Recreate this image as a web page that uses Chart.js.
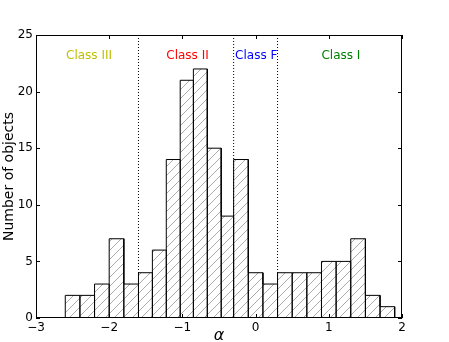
<!DOCTYPE html>
<html>
<head>
<meta charset="utf-8">
<script src="https://cdn.jsdelivr.net/npm/chart.js@4.4.0/dist/chart.umd.min.js"></script>
<style>
  html, body { margin: 0; padding: 0; background: #fff; }
  #wrap { width: 449px; height: 342px; }
</style>
</head>
<body>
<div id="wrap"><canvas id="histChart"></canvas></div>
<script>
// histogram bins (edges) and counts per bin
const binEdges = [-2.6, -2.4, -2.2, -2.0, -1.8, -1.6, -1.41, -1.22, -1.03, -0.85, -0.66, -0.47,
                  -0.3, -0.1, 0.1, 0.3, 0.5, 0.7, 0.9, 1.1, 1.3, 1.5, 1.7, 1.9];
const counts = [2, 2, 3, 7, 3, 4, 6, 14, 21, 22, 15, 9, 14, 4, 3, 4, 4, 4, 5, 5, 7, 2, 1];

// class boundaries (dotted lines) and class labels
const classBounds = [-1.6, -0.3, 0.3];
const classNames = ["Class III", "Class II", "Class F", "Class I"];
const classColors = ["#bfbf00", "#ff0000", "#0000ff", "#008000"];
const classLabelX = [-2.59, -1.22, -0.28, 0.9];
const classLabelY = 23.2;

const xTicks = [-3, -2, -1, 0, 1, 2];
const yTicks = [0, 5, 10, 15, 20, 25];

Chart.defaults.font.family = "'DejaVu Sans', sans-serif";
Chart.defaults.color = "#000";

function makeHatch() {
  const s = 9;
  const c = document.createElement("canvas");
  c.width = s; c.height = s;
  const g = c.getContext("2d");
  g.strokeStyle = "#ababab";
  g.lineWidth = 1;
  g.beginPath();
  g.moveTo(0, s); g.lineTo(s, 0);
  g.moveTo(-1, 1); g.lineTo(1, -1);
  g.moveTo(s - 1, s + 1); g.lineTo(s + 1, s - 1);
  g.stroke();
  return g.createPattern(c, "repeat");
}

// outline of every bar as one path: up, across, down for each bin
const histPoints = [];
counts.forEach((v, i) => {
  histPoints.push({ x: binEdges[i], y: 0 });
  histPoints.push({ x: binEdges[i], y: v });
  histPoints.push({ x: binEdges[i + 1], y: v });
  histPoints.push({ x: binEdges[i + 1], y: 0 });
});

const boundSets = classBounds.map(b => ({
  data: [{ x: b, y: 0 }, { x: b, y: 25 }],
  borderColor: "#000",
  borderWidth: 1,
  borderDash: [1, 2],
  pointRadius: 0,
  fill: false
}));

const minus = v => (v < 0 ? "\u2212" + Math.abs(v) : String(v));

const framePlugin = {
  id: "frame",
  afterDraw(chart) {
    const { ctx, chartArea: a, scales: { x, y } } = chart;
    ctx.save();
    ctx.strokeStyle = "#000";
    ctx.lineWidth = 1;
    ctx.strokeRect(Math.round(a.left) + 0.5, Math.round(a.top) + 0.5,
      Math.round(a.right - a.left) - 1, Math.round(a.bottom - a.top) - 1);
    ctx.beginPath();
    xTicks.forEach(t => {
      const px = Math.round(x.getPixelForValue(t)) + 0.5;
      ctx.moveTo(px, a.bottom); ctx.lineTo(px, a.bottom - 4);
      ctx.moveTo(px, a.top); ctx.lineTo(px, a.top + 4);
    });
    yTicks.forEach(t => {
      const py = Math.round(y.getPixelForValue(t)) + 0.5;
      ctx.moveTo(a.left, py); ctx.lineTo(a.left + 4, py);
      ctx.moveTo(a.right, py); ctx.lineTo(a.right - 4, py);
    });
    ctx.stroke();
    ctx.font = "12px 'DejaVu Sans'";
    ctx.textAlign = "left";
    ctx.textBaseline = "middle";
    classNames.forEach((n, i) => {
      ctx.fillStyle = classColors[i];
      ctx.fillText(n, x.getPixelForValue(classLabelX[i]), y.getPixelForValue(classLabelY));
    });
    ctx.restore();
  }
};

new Chart(document.getElementById("histChart"), {
  type: "line",
  data: {
    datasets: [{
      data: histPoints,
      borderColor: "#000",
      borderWidth: 1,
      backgroundColor: makeHatch(),
      fill: "origin",
      pointRadius: 0,
      tension: 0
    }, ...boundSets]
  },
  options: {
    responsive: true,
    maintainAspectRatio: false,
    animation: false,
    layout: { padding: { top: 35, right: 47, left: 0, bottom: 0 } },
    plugins: { legend: { display: false }, tooltip: { enabled: false } },
    scales: {
      x: {
        type: "linear",
        min: -3, max: 2,
        grid: { display: false, drawTicks: false },
        border: { display: false },
        ticks: { stepSize: 1, padding: 3, font: { size: 12 }, callback: minus },
        title: {
          display: true, text: "\u03b1", padding: 0,
          font: { size: 16, style: "italic", lineHeight: "12px" }
        },
        afterFit: s => { s.height = 24; }
      },
      y: {
        min: 0, max: 25,
        grid: { display: false, drawTicks: false },
        border: { display: false },
        ticks: { stepSize: 5, padding: 3, font: { size: 12 } },
        title: {
          display: true, text: "Number of objects", padding: 0,
          font: { size: 14, lineHeight: "18px" }
        },
        afterFit: s => { s.width = 36; }
      }
    }
  },
  plugins: [framePlugin]
});
</script>
</body>
</html>
